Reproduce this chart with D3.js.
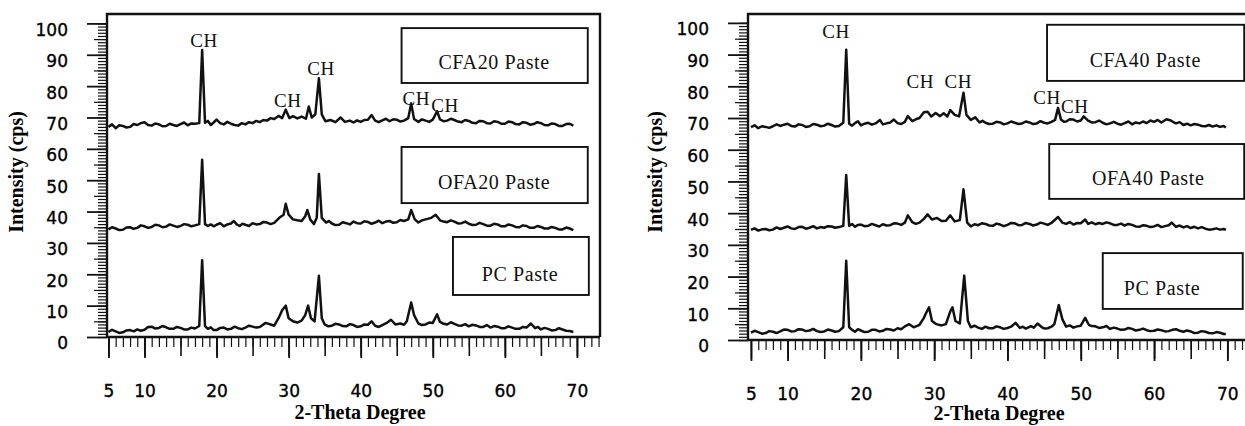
<!DOCTYPE html>
<html lang="en">
<head>
<meta charset="utf-8">
<title>XRD patterns of pastes</title>
<style>
  body { margin: 0; background: #fff; }
  svg { display: block; }
  .tick-label { font: 17px 'DejaVu Sans', sans-serif; fill: #000; stroke: #000; stroke-width: 0.35; }
  .title { font: bold 20px 'Liberation Serif', serif; fill: #000; }
  .note { font: 19px 'Liberation Serif', serif; fill: #111; letter-spacing: 0.6px; }
  .box-label { font-size: 20px; }
  .trace { fill: none; stroke: #111; stroke-width: 2.5; stroke-linejoin: round; }
  .frame { stroke: #111; stroke-width: 2.4; fill: none; }
  .box { stroke: #111; stroke-width: 1.9; fill: none; }
</style>
<script src="https://cdn.jsdelivr.net/npm/d3@7"></script>
</head>
<body>
<svg width="1245" height="426"></svg>
<script>
// tick labels
const xTicks = [5, 10, 20, 30, 40, 50, 60, 70];
const yTicks = [0, 10, 20, 30, 40, 50, 60, 70, 80, 90, 100];

// sample names, top to bottom
const labels20 = ["CFA20 Paste", "OFA20 Paste", "PC Paste"];
const labels40 = ["CFA40 Paste", "OFA40 Paste", "PC Paste"];

// [2-theta, intensity (cps)]
const cfa20 = [[5,67],[5.5,67.8],[6,66.6],[6.5,67.5],[7,67.3],[7.5,66.8],[8,67],[8.5,67.9],[9,67.6],[9.5,68.2],[10,68.5],[10.5,67.6],[11,67.4],[11.5,68.1],[12,67.8],[12.5,67.2],[13,67.3],[13.5,68],[14,67.6],[14.5,67.3],[15,67.9],[15.5,68.4],[16,67.5],[16.5,68.1],[17,68],[17.6,68.2],[18,91.5],[18.4,68.3],[18.8,68.9],[19.2,67.6],[19.6,68.4],[20,69.3],[20.5,68.2],[21,67.8],[21.5,68.6],[22,68],[22.5,67.6],[23,67.4],[23.5,68.2],[24,67.8],[24.5,68.5],[25,68.2],[25.5,68.9],[26,68.5],[26.5,69.2],[27,69],[27.5,69.8],[28,69.5],[28.6,70.5],[29.1,69.8],[29.6,72.5],[30.1,69.8],[30.6,70.4],[31.2,69.7],[31.8,70.3],[32.4,69.6],[32.8,73.5],[33.2,70],[33.7,71],[34.2,82.5],[34.6,71],[35.1,68.8],[35.8,69.2],[36.5,68.5],[37.2,70],[37.8,68.6],[38.5,69],[39,68.4],[39.5,69.1],[40,68.6],[40.5,69.2],[41,69.3],[41.5,70.8],[42,69],[42.5,68.5],[43,69.1],[43.5,69.6],[44,68.8],[44.5,69.4],[45,69.3],[45.5,68.7],[46,69],[46.6,69.8],[47,74.5],[47.4,69.5],[48,68.6],[48.5,69.4],[49,69],[49.5,68.6],[50,69.3],[50.6,72],[51,69.4],[51.5,68.8],[52,69],[52.5,69.6],[53,69.2],[53.5,68.7],[54,68.5],[54.5,69.2],[55,68.9],[55.5,68.3],[56,68.2],[56.5,68.9],[57,68.8],[57.5,68.2],[58,68.1],[58.5,68.8],[59,68.6],[59.5,68],[60,68],[60.5,68.7],[61,68.5],[61.5,67.9],[62,67.8],[62.5,68.5],[63,68.3],[63.5,67.7],[64,67.9],[64.5,68.5],[65,68.2],[65.5,67.6],[66,67.5],[66.5,68.1],[67,67.9],[67.5,67.3],[68,67.3],[68.5,67.9],[69,68],[69.5,67.4]];
const ofa20 = [[5,34.3],[5.5,35],[6,34.6],[6.5,34.1],[7,34.2],[7.5,34.9],[8,35],[8.5,34.5],[9,34.8],[9.5,35.6],[10,35.3],[10.5,34.8],[11,35.1],[11.5,35.8],[12,35.6],[12.5,35],[13,35.2],[13.5,35.9],[14,35.5],[14.5,35.1],[15,35.4],[15.5,36],[16,35.8],[16.5,35.3],[17,35.6],[17.6,36],[18,56.5],[18.4,36],[18.8,35.4],[19.2,35.9],[19.6,35.3],[20,35.8],[20.5,36.3],[21,35.3],[21.5,35.9],[22,36.2],[22.4,37],[22.8,35.9],[23.2,35.4],[23.6,36.1],[24,35.8],[24.5,35.4],[25,36.3],[25.5,35.9],[26,36],[26.5,36.7],[27,36.5],[27.5,36],[28,36.4],[28.7,38],[29.3,39],[29.6,42.5],[30,39],[30.6,37.5],[31.2,37.2],[31.8,37],[32.3,38.5],[32.6,40.5],[33,37.5],[33.5,36],[33.9,38],[34.2,52],[34.6,38],[35.2,36.5],[35.6,37],[36,36.2],[36.5,35.7],[37,35.8],[37.5,36.6],[38,36.3],[38.5,35.9],[39,36.8],[39.5,36.3],[40,36.2],[40.5,36.9],[41,36.7],[41.5,36.1],[42,36.5],[42.5,37.1],[43,36.3],[43.5,36.8],[44,37],[44.5,36.4],[45,36.6],[45.5,37.3],[46,37],[46.6,37.5],[47,40.5],[47.5,37.5],[48,36.5],[48.5,37.2],[49,37.5],[49.8,38],[50.4,39],[51,37.2],[51.5,36.8],[52,36.6],[52.5,37.2],[53,36.8],[53.5,36.2],[54,36.3],[54.5,36.8],[55,36.1],[55.5,35.7],[56,35.8],[56.5,36.4],[57,36],[57.5,35.5],[58,35.5],[58.5,36.1],[59,35.9],[59.5,35.3],[60,35.3],[60.5,35.9],[61,35.6],[61.5,35.1],[62,35],[62.5,35.6],[63,35.4],[63.5,34.8],[64,34.8],[64.5,35.4],[65,35.1],[65.5,34.6],[66,34.6],[66.5,35.1],[67,34.8],[67.5,34.3],[68,34.3],[68.5,34.9],[69,34.6],[69.5,34.1]];
const pcLeft = [[5,1.6],[5.5,2.3],[6,1.8],[6.5,1.3],[7,1.5],[7.5,2.1],[8,2.2],[8.5,1.8],[9,2.4],[9.5,2],[10,2.3],[10.5,3.2],[11,3.3],[11.5,2.7],[12,2.9],[12.5,3.5],[13,3.1],[13.5,2.6],[14,2.6],[14.5,3.2],[15,2.9],[15.5,2.4],[16,2.4],[16.5,3],[17,2.7],[17.6,3.5],[18,24.5],[18.4,3.5],[18.8,2.6],[19.2,3.1],[19.6,2.2],[20,2.2],[20.5,2.9],[21,3],[21.5,2.4],[22,2.6],[22.5,3.3],[23,2.8],[23.5,2.5],[24,3],[24.5,3.6],[25,3.3],[25.5,3],[26,3.2],[26.8,4.5],[27.5,4],[28,3.6],[28.6,6],[29.1,8.5],[29.6,10],[30,6],[30.6,5],[31.2,4.6],[31.8,5.2],[32.3,7],[32.7,10],[33.1,6],[33.6,5],[34.2,19.5],[34.6,6],[35,4],[35.5,3.4],[36,3.6],[36.5,4.2],[37,4],[37.5,3.5],[38,3.4],[38.5,4.1],[39,3.8],[39.5,3.2],[40,3.4],[40.5,4],[41,3.9],[41.5,5],[42,3.6],[42.5,3.2],[43,3.8],[43.6,4.5],[44.2,5.5],[44.8,4],[45.5,4.3],[46,3.9],[46.4,5],[47,11],[47.4,7],[48,4.3],[48.5,3.8],[49,4],[49.5,4.6],[50,4.5],[50.6,7.2],[51,4.8],[51.5,4.2],[52,4],[52.5,4.7],[53,4.2],[53.5,3.7],[54,3.6],[54.5,4.1],[55,3.4],[55.5,3.9],[56,3.7],[56.5,3.2],[57,3.2],[57.5,3.8],[58,3],[58.5,3.5],[59,3.3],[59.5,2.8],[60,2.8],[60.5,3.4],[61,3],[61.5,2.6],[62,2.6],[62.5,3.2],[63,3],[63.6,4.3],[64.2,2.8],[64.6,3.2],[65,2.4],[65.5,2.9],[66,2.6],[66.5,2.1],[67,2.2],[67.5,2.8],[68,2.4],[68.5,2],[69,1.9],[69.5,1.6]];

const cfa40 = [[5,67.1],[5.5,67.7],[6,66.8],[6.5,67.4],[7,67.2],[7.5,66.9],[8,67.4],[8.5,68],[9,67.5],[9.5,67.9],[10,68.2],[10.5,67.5],[11,67.3],[11.5,68],[12,67.8],[12.5,67.2],[13,67.4],[13.5,68.1],[14,67.9],[14.5,67.4],[15,67.6],[15.5,68.2],[16,67.8],[16.5,67.3],[17,67.5],[17.6,68.5],[18,91.5],[18.4,68.2],[18.8,67.6],[19.2,68.4],[19.6,69],[20,67.7],[20.5,68.2],[21,68.5],[21.5,67.9],[22,68.3],[22.6,69.4],[23,68],[23.5,68.3],[24,68.6],[24.5,69.5],[25,68.4],[25.5,68.1],[26,68.8],[26.4,70.6],[27,69],[27.5,69.6],[28,70],[28.6,71.8],[29.1,72],[29.6,70.5],[30.2,71.6],[30.8,70.6],[31.3,71.5],[31.8,70.5],[32.2,72.5],[32.8,71],[33.4,70.5],[34,78],[34.4,71],[35,69.4],[35.6,70.2],[36.2,68.6],[36.6,69.1],[37,68.5],[37.5,68.1],[38,68.2],[38.5,68.8],[39,68.6],[39.5,68],[40,68.3],[40.5,68.9],[41,68.5],[41.5,68.1],[42,68.3],[42.5,68.9],[43,68.6],[43.5,68.1],[44,68.3],[44.5,69],[45,68.5],[45.5,68.3],[46,68.8],[46.5,69.4],[46.9,73.2],[47.3,69.5],[47.7,68.8],[48,68.9],[48.5,69.6],[49,69.5],[49.5,68.9],[50,69.2],[50.4,70.5],[51,69.2],[51.5,68.6],[52,68.7],[52.5,69.2],[53,68.5],[53.5,68],[54,68.3],[54.5,68.8],[55,68.2],[55.5,67.9],[56,68.4],[56.5,68.9],[57,68],[57.5,68.6],[58,68.3],[58.5,68.9],[59,68.4],[59.5,69.2],[60,68.8],[60.5,69.4],[61,68.6],[61.7,69.6],[62.3,69.2],[62.7,68.6],[63,68.3],[63.5,68.7],[64,67.8],[64.5,68.2],[65,67.7],[65.5,68.1],[66,67.9],[66.5,67.5],[67,67.4],[67.5,67.8],[68,67.3],[68.5,67.7],[69,67.2],[69.5,67.5],[69.8,67]];
const ofa40 = [[5,34.7],[5.5,35.2],[6,34.5],[6.5,34.9],[7,35],[7.5,34.6],[8,34.8],[8.5,35.5],[9,35],[9.5,35.4],[10,35.8],[10.5,35.2],[11,35],[11.5,35.6],[12,35.7],[12.5,35.1],[13,35.4],[13.5,35.9],[14,35.2],[14.5,35.6],[15,35.4],[15.5,35.9],[16,35.8],[16.5,35.4],[17,35.6],[17.6,36],[18,52],[18.4,36],[18.8,36.6],[19.2,35.7],[19.6,36.3],[20,36.4],[20.5,35.9],[21,36],[21.5,36.6],[22,36.2],[22.5,35.8],[23,36.5],[23.5,36.1],[24,36.2],[24.5,36.8],[25,36.7],[25.5,36.3],[26,37],[26.4,39.3],[27,37.2],[27.5,36.6],[28,37],[28.6,38.2],[29.1,39.6],[29.7,38],[30.4,38.5],[31,37.5],[31.6,37.6],[32.2,39.3],[32.8,37.4],[33.5,37.8],[34,47.5],[34.5,37],[35,35.8],[35.5,36.5],[36,36.2],[36.5,36.8],[37,36.6],[37.5,36.1],[38,36],[38.5,36.7],[39,36.4],[39.5,35.9],[40,36.3],[40.5,36.9],[41,36.8],[41.5,36.2],[42,36.3],[42.5,36.9],[43,36.6],[43.5,36.1],[44,36.4],[44.5,37],[45,36.7],[45.5,36.3],[46,36.9],[46.9,38.8],[47.5,37],[48,36.6],[48.5,37.2],[49,36.4],[49.5,36.9],[50,36.8],[50.6,38],[51,36.6],[51.5,37.1],[52,36.5],[52.5,36.9],[53,36.6],[53.5,37.1],[54,36.8],[54.5,36.3],[55,36.3],[55.5,36.7],[56,36.1],[56.5,36.6],[57,36.3],[57.5,35.8],[58,35.7],[58.5,36.2],[59,36],[59.5,35.6],[60,35.8],[60.5,36.3],[61,35.6],[61.5,35.9],[62,36.2],[62.4,37],[63,35.7],[63.5,36.1],[64,35.5],[64.5,35.9],[65,35.3],[65.5,35.7],[66,35.2],[66.5,35.6],[67,35.1],[67.5,34.8],[68,34.9],[68.5,35.2],[69,34.8],[69.5,35],[69.8,34.7]];
const pcRight = [[5,2.3],[5.5,2.9],[6,2.5],[6.5,2],[7,2.2],[7.5,2.8],[8,2.6],[8.5,2.2],[9,2.7],[9.5,3.3],[10,3.2],[10.5,2.7],[11,2.8],[11.5,3.4],[12,3.3],[12.5,2.8],[13,3],[13.5,3.5],[14,2.8],[14.5,2.5],[15,2.7],[15.5,3.3],[16,3],[16.5,2.6],[17,2.8],[17.6,4],[18,25],[18.4,4],[18.8,3.2],[19.2,2.6],[19.6,3.4],[20,3],[20.5,2.5],[21,2.6],[21.5,3.2],[22,3.2],[22.5,2.7],[23,2.9],[23.5,3.5],[24,3.3],[24.5,3],[25,3.7],[25.5,3.4],[26,4.3],[26.6,5],[27.2,4],[27.6,4.4],[28,4.8],[28.6,7],[28.9,8.5],[29.3,10.3],[29.7,6],[30.3,5],[31,4.6],[31.6,5],[32.2,9],[32.5,10.3],[32.9,6],[33.5,5.2],[34.1,20.3],[34.6,6],[35,4],[35.5,4.5],[36,3.9],[36.5,3.5],[37,4.2],[37.5,3.7],[38,3.7],[38.5,4.3],[39,4],[39.5,3.5],[40,3.8],[40.5,4.2],[41.1,5.4],[41.7,3.8],[42.1,4.2],[42.5,3.6],[43.2,4.4],[43.6,3.9],[44.1,5.2],[44.7,4],[45.1,3.6],[45.5,3.7],[46,4.2],[46.4,5],[47,11],[47.5,6.5],[48,4.2],[48.5,4.6],[49,3.9],[49.5,4.3],[50,4.5],[50.6,7],[51.1,4.8],[51.5,4.4],[52,4.3],[52.5,3.8],[53,4],[53.5,4.4],[54,3.5],[54.5,3.9],[55,3.6],[55.5,3.2],[56,3.3],[56.5,3.8],[57,3.5],[57.5,3],[58,3.2],[58.5,3.6],[59,3.1],[59.5,2.8],[60,2.9],[60.5,3.3],[61,3.1],[61.5,2.7],[62,2.8],[62.5,3.2],[63,3.4],[63.5,2.9],[64,2.6],[64.5,3],[65,2.7],[65.5,2.2],[66,2.3],[66.5,2.8],[67,2.6],[67.5,2.2],[68,2.1],[68.5,2.5],[69,2.3],[69.5,1.9],[69.8,1.9]];

const svg = d3.select("svg");

// layout of each panel (data units for boxes and CH notes)
const panels = [
  {
    series: [cfa20, ofa20, pcLeft], labels: labels20,
    xDomain: [4.8, 73.2], xRange: [107, 600], yMax: 103, yRange: [337, 14],
    boxes: [
      { x0: 45.67, x1: 71.5, top: 98.5, bottom: 81.0, tx: 58.5 },
      { x0: 45.67, x1: 71.5, top: 60.6, bottom: 42.7, tx: 58.5 },
      { x0: 52.8, x1: 71.65, top: 31.9, bottom: 13.4, tx: 62.1 }
    ],
    notes: [[18.25, 92.5], [29.9, 73.3], [34.5, 83.5], [47.7, 74], [51.7, 71.7]],
    yTitleX: 23, xTitleX: 360, xTitleY: 419
  },
  {
    series: [cfa40, ofa40, pcRight], labels: labels40,
    xDomain: [4.6, 73.5], xRange: [748, 1253], yMax: 102.8, yRange: [340, 14],
    boxes: [
      { x0: 45.4, x1: 72.3, top: 99.4, bottom: 81.7, tx: 58.8 },
      { x0: 45.7, x1: 72.3, top: 61.8, bottom: 44.5, tx: 59.2 },
      { x0: 53.0, x1: 72.1, top: 27.4, bottom: 9.8, tx: 61.1 }
    ],
    notes: [[16.6, 95.3], [28.1, 79.5], [33.3, 79.5], [45.4, 74.4], [49.2, 71.6]],
    yTitleX: 662, xTitleX: 999, xTitleY: 420
  }
];

function drawPanel(p) {
  const x = d3.scaleLinear().domain(p.xDomain).range(p.xRange);
  const y = d3.scaleLinear().domain([0, p.yMax]).range(p.yRange);
  const g = svg.append("g");
  const x0 = p.xRange[0];

  function plainAxis(axis) {
    const a = g.append("g").call(axis);
    a.select(".domain").remove();
    a.selectAll("line").attr("stroke", "#111").attr("stroke-width", 1.2);
    return a;
  }

  // y axis: minor every 1, medium every 5, labelled every 10
  plainAxis(d3.axisLeft(y).tickValues(d3.range(0, 101, 1)).tickSize(9).tickFormat(""))
    .attr("transform", `translate(${x0},0)`);
  plainAxis(d3.axisLeft(y).tickValues(d3.range(5, 101, 10)).tickSize(13).tickFormat(""))
    .attr("transform", `translate(${x0},0)`);
  const ya = plainAxis(d3.axisLeft(y).tickValues(yTicks).tickSize(20).tickPadding(19).tickFormat(d3.format("d")))
    .attr("transform", `translate(${x0},0)`);
  ya.selectAll("line").attr("stroke-width", 1.8);
  ya.selectAll("text").attr("class", "tick-label").attr("fill", null).attr("y", 6).attr("dy", "0.35em");

  // x axis: minor every 1, long every 5, labels at the listed ticks
  const y0 = y(0);
  plainAxis(d3.axisBottom(x).tickValues(d3.range(5, 74, 1)).tickSize(10).tickFormat(""))
    .attr("transform", `translate(0,${y0})`);
  plainAxis(d3.axisBottom(x).tickValues(d3.range(5, 74, 5)).tickSize(19).tickFormat(""))
    .attr("transform", `translate(0,${y0})`).selectAll("line").attr("stroke-width", 1.6);
  const xa = plainAxis(d3.axisBottom(x).tickValues(xTicks).tickSize(21).tickFormat(d3.format("d")))
    .attr("transform", `translate(0,${y0})`);
  xa.selectAll("line").attr("stroke-width", 1.8);
  xa.selectAll("text").attr("class", "tick-label").attr("fill", null).attr("y", 54).attr("dy", "0.35em");

  // frame
  g.append("path").attr("class", "frame")
    .attr("d", `M${x0},${y0} V${y(p.yMax)} H${p.xRange[1]} V${y0} M${x0},${y0} H${p.xRange[1]}`);

  // traces
  const line = d3.line().x(d => x(d[0])).y(d => y(d[1]));
  g.selectAll(".trace").data(p.series).join("path")
    .attr("class", "trace").attr("d", line);

  // sample boxes
  g.selectAll(".box").data(p.boxes).join("rect")
    .attr("class", "box")
    .attr("x", d => x(d.x0)).attr("width", d => x(d.x1) - x(d.x0))
    .attr("y", d => y(d.top)).attr("height", d => y(d.bottom) - y(d.top));
  g.selectAll(".box-label").data(p.boxes).join("text")
    .attr("class", "note box-label")
    .attr("text-anchor", "middle")
    .attr("x", d => x(d.tx)).attr("y", d => y(d.bottom) - 14)
    .text((d, i) => p.labels[i]);

  // CH peak notes
  g.selectAll(".ch").data(p.notes).join("text")
    .attr("class", "note ch").attr("text-anchor", "middle")
    .attr("x", d => x(d[0])).attr("y", d => y(d[1]))
    .text("CH");

  // axis titles
  svg.append("text").attr("class", "title").attr("text-anchor", "middle")
    .attr("transform", `translate(${p.yTitleX},172) rotate(-90)`)
    .text("Intensity (cps)");
  svg.append("text").attr("class", "title").attr("text-anchor", "middle")
    .attr("x", p.xTitleX).attr("y", p.xTitleY)
    .text("2-Theta Degree");
}

panels.forEach(drawPanel);
</script>
</body>
</html>
